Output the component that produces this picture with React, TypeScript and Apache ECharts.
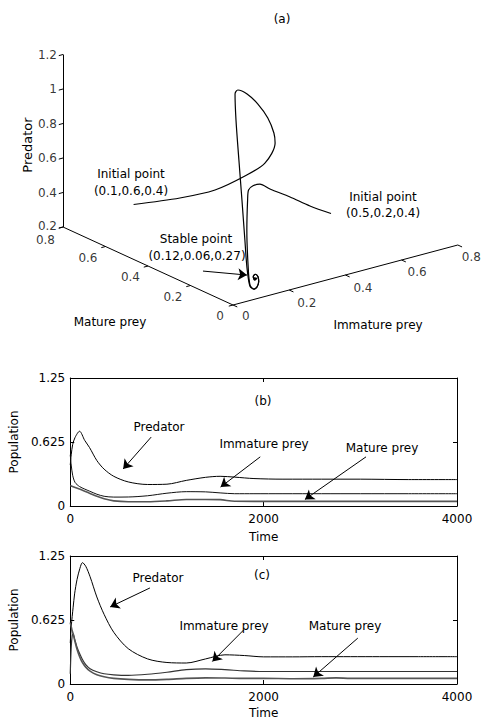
import { useEffect, useRef } from "react";
import * as echarts from "echarts";

// ---------- Panel (a): phase trajectories (immature prey, mature prey, predator)
const traj1Immature = [0.1, 0.219, 0.295, 0.363, 0.404, 0.4236, 0.411, 0.378, 0.331, 0.28, 0.232, 0.219, 0.177, 0.142, 0.115, 0.099, 0.0915, 0.098, 0.116, 0.131, 0.1406, 0.138, 0.1247, 0.116, 0.1226, 0.1297, 0.12];
const traj1Mature = [0.6, 0.5395, 0.4747, 0.424, 0.384, 0.362, 0.351, 0.336, 0.3205, 0.304, 0.284, 0.28, 0.22, 0.16, 0.11, 0.075, 0.055, 0.05, 0.055, 0.06, 0.065, 0.065, 0.06, 0.058, 0.06, 0.06, 0.06];
const traj1Predator = [0.4, 0.42, 0.47, 0.55, 0.63, 0.75, 0.82, 0.93, 1.04, 1.13, 1.185, 1.17, 1.071, 0.888, 0.697, 0.491, 0.343, 0.239, 0.211, 0.214, 0.238, 0.268, 0.29, 0.281, 0.258, 0.265, 0.27];

const traj2Immature = [0.5, 0.41, 0.324, 0.2375, 0.194, 0.162, 0.131, 0.12, 0.106, 0.099, 0.0998, 0.116, 0.131, 0.1406, 0.138, 0.1247, 0.116, 0.1226, 0.1297, 0.12];
const traj2Mature = [0.2, 0.18, 0.16, 0.14, 0.13, 0.12, 0.1, 0.09, 0.075, 0.06, 0.052, 0.055, 0.06, 0.065, 0.065, 0.06, 0.058, 0.06, 0.06, 0.06];
const traj2Predator = [0.4, 0.494, 0.595, 0.69, 0.743, 0.753, 0.753, 0.705, 0.546, 0.355, 0.243, 0.211, 0.2136, 0.2377, 0.2675, 0.29, 0.281, 0.2577, 0.2645, 0.27];

const stablePoint = [0.12, 0.06, 0.27];
const predatorTicks = [0.2, 0.4, 0.6, 0.8, 1, 1.2];
const matureTicks = [0, 0.2, 0.4, 0.6, 0.8];
const immatureTicks = [0, 0.2, 0.4, 0.6, 0.8];

// ---------- Panel (b): initial point (0.5, 0.2, 0.4)
const timeB = [0, 10, 25, 50, 96, 150, 200, 275, 350, 450, 600, 800, 1000, 1200, 1400, 1550, 1700, 1900, 2200, 2600, 3000, 3500, 4000];
const predatorB = [0.4, 0.5, 0.6, 0.67, 0.73, 0.64, 0.57, 0.444, 0.36, 0.29, 0.235, 0.21, 0.213, 0.25, 0.28, 0.29, 0.282, 0.268, 0.262, 0.262, 0.262, 0.258, 0.258];
const immatureB = [0.5, 0.4, 0.3, 0.23, 0.19, 0.165, 0.145, 0.115, 0.095, 0.087, 0.088, 0.1, 0.125, 0.14, 0.138, 0.128, 0.12, 0.12, 0.12, 0.12, 0.12, 0.12, 0.12];
const matureB = [0.2, 0.195, 0.19, 0.18, 0.165, 0.145, 0.125, 0.095, 0.07, 0.05, 0.042, 0.042, 0.05, 0.064, 0.064, 0.062, 0.046, 0.045, 0.045, 0.045, 0.045, 0.045, 0.045];

// ---------- Panel (c): initial point (0.1, 0.6, 0.4)
const timeC = [0, 10, 20, 30, 45, 70, 100, 126, 160, 205, 275, 350, 450, 600, 800, 1000, 1200, 1400, 1600, 1800, 2000, 2300, 2600, 2750, 2900, 3200, 3600, 4000];
const predatorC = [0.4, 0.56, 0.66, 0.75, 0.88, 1.02, 1.13, 1.185, 1.15, 1.048, 0.85, 0.68, 0.505, 0.345, 0.245, 0.21, 0.205, 0.245, 0.285, 0.278, 0.265, 0.265, 0.267, 0.267, 0.267, 0.267, 0.267, 0.267];
const immatureC = [0.1, 0.36, 0.47, 0.49, 0.44, 0.36, 0.29, 0.24, 0.19, 0.15, 0.12, 0.1, 0.09, 0.085, 0.095, 0.115, 0.14, 0.148, 0.14, 0.128, 0.122, 0.122, 0.122, 0.122, 0.122, 0.122, 0.122, 0.122];
const matureC = [0.6, 0.56, 0.52, 0.49, 0.43, 0.34, 0.26, 0.21, 0.165, 0.125, 0.09, 0.07, 0.055, 0.045, 0.04, 0.045, 0.055, 0.06, 0.058, 0.055, 0.055, 0.052, 0.055, 0.06, 0.055, 0.055, 0.055, 0.055];

// annotation arrows [fromTime, fromPop, toTime, toPop]
const arrowsB = [
  [837, 0.673, 547, 0.362],
  [1965, 0.48, 1555, 0.185],
  [3059, 0.48, 2427, 0.064],
];
const arrowsC = [
  [824, 0.938, 413, 0.753],
  [1795, 0.529, 1470, 0.22],
  [2974, 0.448, 2513, 0.068],
];

const FONT = "DejaVu Sans";

function proj(i: number, m: number, z: number): number[] {
  return [281 * i - 212.5 * m, 75 * i + 97.5 * m + 172.5 * (z - 0.2)];
}

function zip3(a: number[], b: number[], c: number[]) {
  return a.map((v, k) => proj(v, b[k], c[k]));
}

function zip2(t: number[], v: number[]) {
  return t.map((x, k) => [x, v[k]]);
}

function fmt(v: number) {
  return String(v);
}

function txt(text: string, x: number, y: number, extra: any = {}) {
  const { size, ...rest } = extra;
  return {
    type: "text",
    x,
    y,
    silent: true,
    ...rest,
    style: {
      text,
      fill: "#000",
      font: `${size || 12}px "${FONT}"`,
      align: "center",
      verticalAlign: "middle",
      textAlign: "center",
      textVerticalAlign: "middle",
    },
  };
}

export default function App() {
  const ref = useRef<HTMLDivElement>(null);
  useEffect(() => {
    if (!ref.current) return;
    const chart = echarts.init(ref.current, undefined, { renderer: "svg" });

    // 3-D axes and ticks
    const axisSegs: any[] = [
      { coords: [proj(0, 0.8, 0.2), proj(0, 0.8, 1.2)] },
      { coords: [proj(0, 0, 0.2), proj(0, 0.8, 0.2)] },
      { coords: [proj(0, 0, 0.2), proj(0.8, 0, 0.2)] },
    ];
    predatorTicks.forEach((z) => axisSegs.push({ coords: [proj(0, 0.8, z), proj(-0.015, 0.8, z)] }));
    matureTicks.forEach((m) => axisSegs.push({ coords: [proj(0, m, 0.2), proj(-0.015, m, 0.2)] }));
    immatureTicks.forEach((i) => axisSegs.push({ coords: [proj(i, 0, 0.2), proj(i, -0.02, 0.2)] }));

    const sp = proj(stablePoint[0], stablePoint[1], stablePoint[2]);

    const lbl = (position: any, align: string) => ({
      show: true,
      formatter: "{b}",
      position,
      align,
      verticalAlign: "middle",
      color: "#000",
      fontFamily: FONT,
      fontSize: 12,
    });

    const predatorLabelOffsets = [[-6, -1.5], [-6, 0], [-6, 0], [-6, 0], [-6, 0], [-6, 0]];
    const matureLabelOffsets = [[-9, 11], [-8, 11], [-8, 11], [-8, 11], [-8, 13]];
    const immatureLabelOffsets = [[9, 11], [8, 13], [8, 12.5], [6, 12], [4, 12]];

    const tsLine = (x: number, y: number, data: number[][], color: string, width: number) => ({
      type: "line",
      xAxisIndex: x,
      yAxisIndex: y,
      data,
      showSymbol: false,
      symbol: "none",
      smooth: 0.3,
      lineStyle: { color, width },
      z: 3,
    });

    const arrowSeries = (x: number, y: number, arr: number[][]) => ({
      type: "lines",
      coordinateSystem: "cartesian2d",
      xAxisIndex: x,
      yAxisIndex: y,
      symbol: ["none", "arrow"],
      symbolSize: [6, 9],
      lineStyle: { color: "#000", width: 1, opacity: 1 },
      itemStyle: { color: "#000" },
      data: arr.map((a) => ({ coords: [[a[0], a[1]], [a[2], a[3]]] })),
      z: 4,
    });

    const xBottom = (gi: number, gap: number) => ({
      gridIndex: gi,
      type: "value",
      min: 0,
      max: 4000,
      interval: 2000,
      position: "bottom",
      axisLine: { show: true, onZero: false, lineStyle: { color: "#000", width: 1 } },
      axisTick: { show: true, inside: true, length: 4, lineStyle: { color: "#000" } },
      axisLabel: { color: "#000", fontFamily: FONT, fontSize: 12, margin: 7, formatter: (v: number) => String(v) },
      splitLine: { show: false },
      name: "Time",
      nameLocation: "middle",
      nameGap: gap,
      nameTextStyle: { color: "#000", fontFamily: FONT, fontSize: 12 },
    });
    const xTop = (gi: number) => ({
      gridIndex: gi,
      type: "value",
      min: 0,
      max: 4000,
      interval: 2000,
      position: "top",
      axisLine: { show: true, onZero: false, lineStyle: { color: "#000", width: 1 } },
      axisTick: { show: true, inside: true, length: 4, lineStyle: { color: "#000" } },
      axisLabel: { show: false },
      splitLine: { show: false },
    });
    const yLeft = (gi: number) => ({
      gridIndex: gi,
      type: "value",
      min: 0,
      max: 1.25,
      interval: 0.625,
      position: "left",
      axisLine: { show: true, onZero: false, lineStyle: { color: "#000", width: 1 } },
      axisTick: { show: true, inside: true, length: 4, lineStyle: { color: "#000" } },
      axisLabel: { color: "#000", fontFamily: FONT, fontSize: 12, margin: 5, formatter: (v: number) => String(v) },
      splitLine: { show: false },
      name: "Population",
      nameLocation: "middle",
      nameGap: 44,
      nameRotate: 90,
      nameTextStyle: { color: "#000", fontFamily: FONT, fontSize: 12 },
    });
    const yRight = (gi: number) => ({
      gridIndex: gi,
      type: "value",
      min: 0,
      max: 1.25,
      interval: 0.625,
      position: "right",
      axisLine: { show: true, onZero: false, lineStyle: { color: "#000", width: 1 } },
      axisTick: { show: true, inside: true, length: 4, lineStyle: { color: "#000" } },
      axisLabel: { show: false },
      splitLine: { show: false },
    });

    const option: any = {
      animation: false,
      backgroundColor: "#fff",
      grid: [
        { left: 0, top: 0, width: 482, height: 340 },
        { left: 67, top: 378, width: 390, height: 128 },
        { left: 67, top: 556, width: 390, height: 128 },
      ],
      xAxis: [
        { gridIndex: 0, type: "value", min: -233, max: 249, show: false },
        xBottom(1, 25),
        xTop(1),
        xBottom(2, 23),
        xTop(2),
      ],
      yAxis: [
        { gridIndex: 0, type: "value", min: -35, max: 305, show: false },
        yLeft(1),
        yRight(1),
        yLeft(2),
        yRight(2),
      ],
      series: [
        {
          type: "lines",
          coordinateSystem: "cartesian2d",
          xAxisIndex: 0,
          yAxisIndex: 0,
          lineStyle: { color: "#000", width: 1, opacity: 1 },
          data: axisSegs,
          z: 2,
        },
        {
          type: "line",
          xAxisIndex: 0,
          yAxisIndex: 0,
          data: zip3(traj1Immature, traj1Mature, traj1Predator),
          showSymbol: false,
          symbol: "none",
          smooth: 0.3,
          lineStyle: { color: "#000", width: 1.2 },
          z: 3,
        },
        {
          type: "line",
          xAxisIndex: 0,
          yAxisIndex: 0,
          data: zip3(traj2Immature, traj2Mature, traj2Predator),
          showSymbol: false,
          symbol: "none",
          smooth: 0.3,
          lineStyle: { color: "#000", width: 1.2 },
          z: 3,
        },
        {
          type: "scatter",
          xAxisIndex: 0,
          yAxisIndex: 0,
          symbolSize: 0,
          itemStyle: { color: "rgba(0,0,0,0)" },
          label: lbl([-6, 0], "right"),
          data: predatorTicks.map((z, k) => ({
            name: fmt(z),
            value: proj(0, 0.8, z),
            label: { position: predatorLabelOffsets[k] },
          })),
        },
        {
          type: "scatter",
          xAxisIndex: 0,
          yAxisIndex: 0,
          symbolSize: 0,
          itemStyle: { color: "rgba(0,0,0,0)" },
          label: lbl([-8, 11], "right"),
          data: matureTicks.map((m, k) => ({
            name: fmt(m),
            value: proj(0, m, 0.2),
            label: { position: matureLabelOffsets[k] },
          })),
        },
        {
          type: "scatter",
          xAxisIndex: 0,
          yAxisIndex: 0,
          symbolSize: 0,
          itemStyle: { color: "rgba(0,0,0,0)" },
          label: lbl([7, 12], "left"),
          data: immatureTicks.map((i, k) => ({
            name: fmt(i),
            value: proj(i, 0, 0.2),
            label: { position: immatureLabelOffsets[k] },
          })),
        },
        arrowSeries(0, 0, [[sp[0] - 51, sp[1] + 7, sp[0] - 7, sp[1] + 3]]),
        // panel (b)
        tsLine(1, 1, zip2(timeB, predatorB), "#000", 1),
        tsLine(1, 1, zip2(timeB, immatureB), "#111", 1),
        tsLine(1, 1, zip2(timeB, matureB), "#555", 1.6),
        arrowSeries(1, 1, arrowsB),
        // panel (c)
        tsLine(3, 3, zip2(timeC, predatorC), "#000", 1),
        tsLine(3, 3, zip2(timeC, immatureC), "#333", 1.2),
        tsLine(3, 3, zip2(timeC, matureC), "#555", 1.6),
        arrowSeries(3, 3, arrowsC),
      ],
      graphic: [
        txt("(a)", 282, 19),
        txt("Predator", 27, 145, { rotation: Math.PI / 2, size: 13 }),
        txt("Mature prey", 110, 322),
        txt("Immature prey", 378, 325),
        txt("Initial point", 131, 174),
        txt("(0.1,0.6,0.4)", 131, 191),
        txt("Initial point", 383, 197),
        txt("(0.5,0.2,0.4)", 383, 213),
        txt("Stable point", 196, 239),
        txt("(0.12,0.06,0.27)", 197, 256),
        txt("(b)", 263, 401),
        txt("Predator", 159, 427),
        txt("Immature prey", 264, 444),
        txt("Mature prey", 382, 448),
        txt("(c)", 262, 575),
        txt("Predator", 158, 578),
        txt("Immature prey", 224, 626),
        txt("Mature prey", 345, 626),
      ],
    };
    chart.setOption(option);
    return () => chart.dispose();
  }, []);

  return (
    <div
      ref={ref}
      style={{ position: "absolute", left: 0, top: 0, width: 482, height: 720, background: "#fff" }}
    />
  );
}
